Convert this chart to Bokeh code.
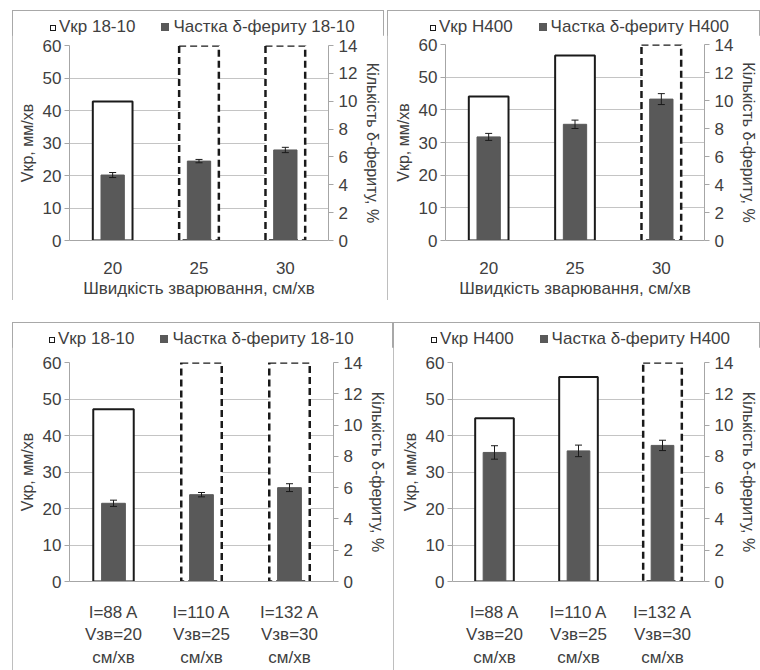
from bokeh.plotting import figure
from bokeh.models import (Range1d, LinearAxis, FactorRange, Whisker, Div,
                          ColumnDataSource, Spacer, SingleIntervalTicker, TeeHead)
from bokeh.layouts import column, row
from bokeh.embed import file_html
from bokeh.resources import INLINE

# ---------------- data ----------------
speed_labels = ["20", "25", "30"]
mode_labels = ["I=88 A\nVзв=20\nсм/хв", "I=110 A\nVзв=25\nсм/хв", "I=132 A\nVзв=30\nсм/хв"]

# Vкр, мм/хв (60 = off the scale, drawn dashed)
vkr_1810_speed = [42.8, 60, 60]
vkr_h400_speed = [44.1, 56.6, 60]
vkr_1810_mode = [47.2, 60, 60]
vkr_h400_mode = [44.7, 56.0, 60]

# δ-ferrite, %
fer_1810_speed = [4.7, 5.7, 6.5]
fer_1810_speed_err = [0.18, 0.12, 0.19]
fer_h400_speed = [7.4, 8.3, 10.1]
fer_h400_speed_err = [0.25, 0.3, 0.39]
fer_1810_mode = [5.0, 5.55, 6.0]
fer_1810_mode_err = [0.2, 0.14, 0.25]
fer_h400_mode = [8.25, 8.35, 8.7]
fer_h400_mode_err = [0.43, 0.37, 0.33]

Y_MAX = 60
Y2_MAX = 14

FONT = "Liberation Sans"
TXT = "#404040"
GRID = "#c4c4c4"
AXIS = "#a6a6a6"
DARK = "#1a1a1a"
BARGRAY = "#595959"
LEG_H = 25


def legend_div(steel, w, lx):
    box_open = ("<span style='display:inline-block;width:6px;height:6px;"
                "border:1.5px solid %s;background:white;margin-right:3px;"
                "vertical-align:1px'></span>" % DARK)
    box_fill = ("<span style='display:inline-block;width:8px;height:8px;"
                "background:%s;margin-right:4px;margin-left:26px;"
                "vertical-align:1px'></span>" % BARGRAY)
    html = ("<div style=\"font-family:'%s';font-size:17px;color:%s;white-space:nowrap;"
            "padding-left:%dpx;padding-top:7px;line-height:20px\">%s<span>Vкр %s</span>"
            "%s<span>Частка δ-фериту %s</span></div>"
            % (FONT, TXT, lx, box_open, steel, box_fill, steel))
    return Div(text=html, width=w, height=LEG_H, margin=0)


def panel(cats, vkr, fer, fer_err, steel, xlabel, w, h, bl, br, bt, bb, lx):
    p = figure(width=w, height=h - LEG_H, x_range=FactorRange(*cats, range_padding=0),
               y_range=Range1d(0, Y_MAX), output_backend="svg", toolbar_location=None,
               min_border_left=bl, min_border_right=br, min_border_top=bt - LEG_H,
               min_border_bottom=bb)
    p.extra_y_ranges = {"fer": Range1d(0, Y2_MAX)}
    p.outline_line_color = None
    p.background_fill_color = "white"
    p.border_fill_color = "white"

    solid = ColumnDataSource(dict(x=[c for c, v in zip(cats, vkr) if v < Y_MAX],
                                  top=[v for v in vkr if v < Y_MAX]))
    dashed = ColumnDataSource(dict(x=[c for c, v in zip(cats, vkr) if v >= Y_MAX],
                                   top=[v for v in vkr if v >= Y_MAX]))
    p.vbar(x="x", top="top", width=0.46, source=solid, fill_color="white",
           line_color=DARK, line_width=2)
    p.vbar(x="x", top="top", width=0.46, source=dashed, fill_color="white",
           line_color=DARK, line_width=2.5, line_dash="7 4")

    fsrc = ColumnDataSource(dict(x=cats, top=fer,
                                 upper=[f + e for f, e in zip(fer, fer_err)],
                                 lower=[f - e for f, e in zip(fer, fer_err)]))
    p.vbar(x="x", top="top", width=0.27, source=fsrc, fill_color=BARGRAY,
           line_color=BARGRAY, y_range_name="fer")
    wh = Whisker(base="x", upper="upper", lower="lower", source=fsrc, y_range_name="fer",
                 line_color=DARK, line_width=1, level="annotation",
                 upper_head=TeeHead(size=7, line_color=DARK, line_width=1),
                 lower_head=TeeHead(size=7, line_color=DARK, line_width=1))
    p.add_layout(wh)

    yl = p.yaxis[0]
    yl.ticker = SingleIntervalTicker(interval=10)
    yl.axis_label = "Vкр, мм/хв"
    yr = LinearAxis(y_range_name="fer", ticker=SingleIntervalTicker(interval=2),
                    axis_label="Кількість δ-фериту, %")
    p.add_layout(yr, "right")
    for ax in (yl, yr):
        ax.axis_line_color = AXIS
        ax.major_tick_line_color = AXIS
        ax.major_tick_out = 5
        ax.major_tick_in = 0
        ax.minor_tick_line_color = None
        ax.major_label_text_font = FONT
        ax.major_label_text_font_size = "17px"
        ax.major_label_text_color = TXT
        ax.axis_label_text_font = FONT
        ax.axis_label_text_font_size = "16px"
        ax.axis_label_text_font_style = "normal"
        ax.axis_label_text_color = TXT
        ax.axis_label_standoff = 4
    yl.major_label_standoff = 3
    yr.major_label_standoff = 5

    xa = p.xaxis[0]
    xa.axis_line_color = AXIS
    xa.major_tick_line_color = None
    xa.major_label_text_font = FONT
    xa.major_label_text_font_size = "17px"
    xa.major_label_text_color = TXT
    xa.major_label_standoff = 15
    if xlabel:
        xa.axis_label = xlabel
        xa.axis_label_text_font = FONT
        xa.axis_label_text_font_size = "17px"
        xa.axis_label_text_font_style = "normal"
        xa.axis_label_text_color = TXT
        xa.axis_label_standoff = 2

    p.xgrid.grid_line_color = None
    p.ygrid.grid_line_color = GRID
    p.ygrid.ticker = SingleIntervalTicker(interval=10)

    box = column(legend_div(steel, w, lx), p, spacing=0,
                 styles={"outline": "1px solid #a8a8a8", "outline-offset": "-1px",
                         "background": "white"})
    return box


xt = "Швидкість зварювання, см/хв"
p1 = panel(speed_labels, vkr_1810_speed, fer_1810_speed, fer_1810_speed_err, "18-10", xt,
           372, 290, 57, 55, 35, 53, 38)
p2 = panel(speed_labels, vkr_h400_speed, fer_h400_speed, fer_h400_speed_err, "H400", xt,
           373, 290, 58, 47, 34, 53, 43)
p3 = panel(mode_labels, vkr_1810_mode, fer_1810_mode, fer_1810_mode_err, "18-10", None,
           381, 348, 57, 60, 40, 82, 37)
p4 = panel(mode_labels, vkr_h400_mode, fer_h400_mode, fer_h400_mode_err, "H400", None,
           367, 348, 59, 47, 40, 82, 38)

layout = column(Spacer(height=10, width=10),
                row(Spacer(width=12, height=10), p1, Spacer(width=3, height=10), p2),
                Spacer(height=22, width=10),
                row(Spacer(width=12, height=10), p3, p4))

open("out.html", "w").write(file_html(layout, INLINE))
